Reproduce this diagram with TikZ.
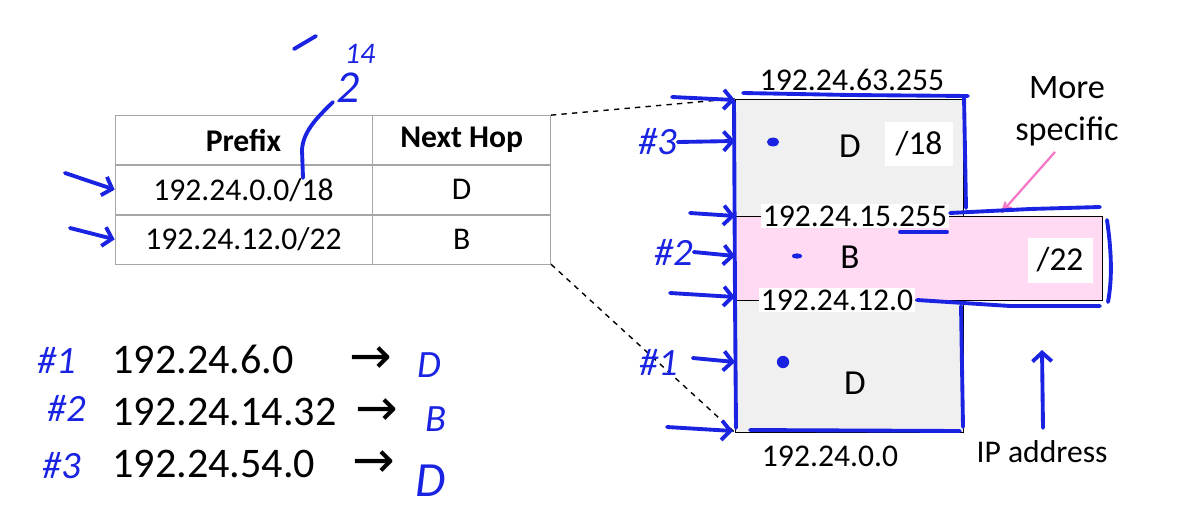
\documentclass[tikz,border=0pt]{standalone}
\usepackage{fontspec}
\setmainfont{Carlito}
\newfontfamily\symfont{DejaVu Sans}
\usetikzlibrary{arrows,arrows.meta,positioning}
\definecolor{pen}{RGB}{25,35,225}
\definecolor{blockgray}{RGB}{240,240,240}
\definecolor{subpink}{RGB}{255,218,242}
\definecolor{pinkline}{RGB}{245,120,200}
\tikzstyle{cell} = [rectangle, draw=gray!70, text centered, inner sep=0pt,
    minimum height=0.98cm, font=\fontsize{18}{21}\selectfont]
\tikzstyle{addr} = [fill=white, inner sep=1pt, font=\fontsize{18}{21}\selectfont]
\tikzstyle{big} = [inner sep=0pt, font=\fontsize{24}{28}\selectfont]
\tikzstyle{pointer} = [inner sep=0pt, anchor=base, font=\symfont\fontsize{29}{30}\selectfont]
\tikzstyle{ink} = [draw=pen, line width=2.2pt, line cap=round, line join=round]
\tikzstyle{inkarrow} = [ink, -{Straight Barb[length=5pt,width=11pt]}]
\tikzstyle{hand} = [text=pen, inner sep=0pt, font=\fontsize{22}{24}\selectfont\itshape]

\begin{document}
\begin{tikzpicture}[x=0.02cm, y=-0.02cm, node distance=0pt]
  \useasboundingbox (0,0) rectangle (1192,524);

  % routing table
  \node[cell, minimum width=5.14cm] (pfx) at (243.5,140) {\bfseries Prefix};
  \node[cell, minimum width=3.56cm] (hop) [right=of pfx] {\bfseries Next Hop};
  \node[cell, minimum width=5.14cm] (p1) [below=of pfx] {192.24.0.0/18};
  \node[cell, minimum width=3.56cm] (h1) [below=of hop] {D};
  \node[cell, minimum width=5.14cm] (p2) [below=of p1] {192.24.12.0/22};
  \node[cell, minimum width=3.56cm] (h2) [below=of h1] {B};

  % address space
  \node[draw, fill=blockgray, minimum width=4.56cm, minimum height=6.66cm] (blk) at (849,265.5) {};
  \node[draw, fill=subpink, minimum width=7.34cm, minimum height=1.68cm] (sub) at (918.5,258) {};
  \draw[dashed, line width=0.8pt] (hop.north east) -- (blk.north west);
  \draw[dashed, line width=0.8pt] (h2.south east) -- (blk.south west);

  \node[addr, fill=none] (top) at (852,80) {192.24.63.255};
  \node[addr] (hi) at (855,216) {192.24.15.255};
  \node[addr] (lo) at (837,300) {192.24.12.0};
  \node[addr, fill=none] (bot) at (830,456) {192.24.0.0};
  \node[addr, fill=none, font=\fontsize{20}{22}\selectfont] (d1) at (850,146) {D};
  \node[addr, fill=none, font=\fontsize{20}{22}\selectfont] (b1) at (850,257) {B};
  \node[addr, fill=none, font=\fontsize{20}{22}\selectfont] (d2) at (855,383) {D};
  \node[addr, minimum width=1.36cm, minimum height=0.9cm, font=\fontsize{19}{22}\selectfont] (m18) at (919,144) {/18};
  \node[addr, minimum width=1.3cm, minimum height=0.9cm, font=\fontsize{19}{22}\selectfont] (m22) at (1060,260) {/22};
  \node[addr, fill=none, font=\fontsize{19.5}{24}\selectfont, align=center] (spec) at (1067,111) {More\\specific};
  \node[addr, fill=none, font=\fontsize{18}{20}\selectfont] (ip) at (1042,452) {IP address};
  \coordinate (tip) at (1001,213);
  \draw[pinkline, line width=1.3pt, ->, >=stealth'] (spec.south) ++(-12,4) -- (tip);

  % lookups
  \node[big, anchor=west] (q1) at (112,359) {192.24.6.0};
  \node[big, anchor=west] (q2) at (112,412) {192.24.14.32};
  \node[big, anchor=west] (q3) at (112,464) {192.24.54.0};
  \coordinate (c1) at (371,0);
  \coordinate (c2) at (377,0);
  \coordinate (c3) at (374,0);
  \node[pointer] (r1) at (c1 |- q1.base) {→};
  \node[pointer] (r2) at (c2 |- q2.base) {→};
  \node[pointer] (r3) at (c3 |- q3.base) {→};

  % pen marks
  \node[hand] (n1) at (57,360) {\#1};
  \node[hand] (n2) at (67,408) {\#2};
  \node[hand] (n3) at (62,466) {\#3};
  \node[hand] (a1) at (429,365) {D};
  \node[hand] (a2) at (436,419) {B};
  \node[hand, font=\fontsize{28}{30}\selectfont\itshape] (a3) at (431,481) {D};
  \node[hand, font=\fontsize{26}{28}\selectfont\itshape] (two) at (348,88) {2};
  \node[hand, font=\fontsize{17}{20}\selectfont\itshape] (exp) at (360,54) {14};
  \draw[ink] (294,49) -- (316,36);
  \draw[ink] (303,178) -- (302,150) .. controls (303,130) and (320,115) .. (333,102);
  \draw[inkarrow] (65,173) -- (p1.west);
  \draw[inkarrow] (70,228) -- (p2.west);

  \node[hand] (s3) at (658,142) {\#3};
  \node[hand] (s2) at (674,252) {\#2};
  \node[hand] (s1) at (659,362) {\#1};
  \draw[inkarrow] (672,97) -- (735,100);
  \draw[inkarrow] (s3.east) -- (735,141);
  \draw[inkarrow] (690,213) -- (735,216);
  \draw[inkarrow] (s2.east) -- (735,256);
  \draw[inkarrow] (670,293) -- (735,297);
  \draw[inkarrow] (s1.east) ++(14,-4) -- (735,362);
  \draw[inkarrow] (667,427) -- (733,431);
  \fill[pen] (773,142) ellipse [x radius=3.5pt, y radius=2.5pt];
  \fill[pen] (797,256) ellipse [x radius=3pt, y radius=1.5pt];
  \fill[pen] (783,362) circle [radius=3.5pt];

  \draw[ink] (743,93) -- (850,95) -- (968,96);
  \draw[ink] (964,96) -- (966,208);
  \draw[ink] (950,213) -- (1030,209) -- (1100,207);
  \draw[ink] (1107,220) .. controls (1112,255) and (1112,280) .. (1108,302);
  \draw[ink] (917,300) -- (1010,306) -- (1100,306);
  \draw[ink] (961,306) -- (963,427);
  \draw[ink] (750,430) -- (960,431);
  \draw[ink] (734,102) -- (735,300) -- (736,428);
  \draw[ink] (900,232) -- (947,232);
  \draw[inkarrow] (1043,428) -- (1042,350);
\end{tikzpicture}
\end{document}
